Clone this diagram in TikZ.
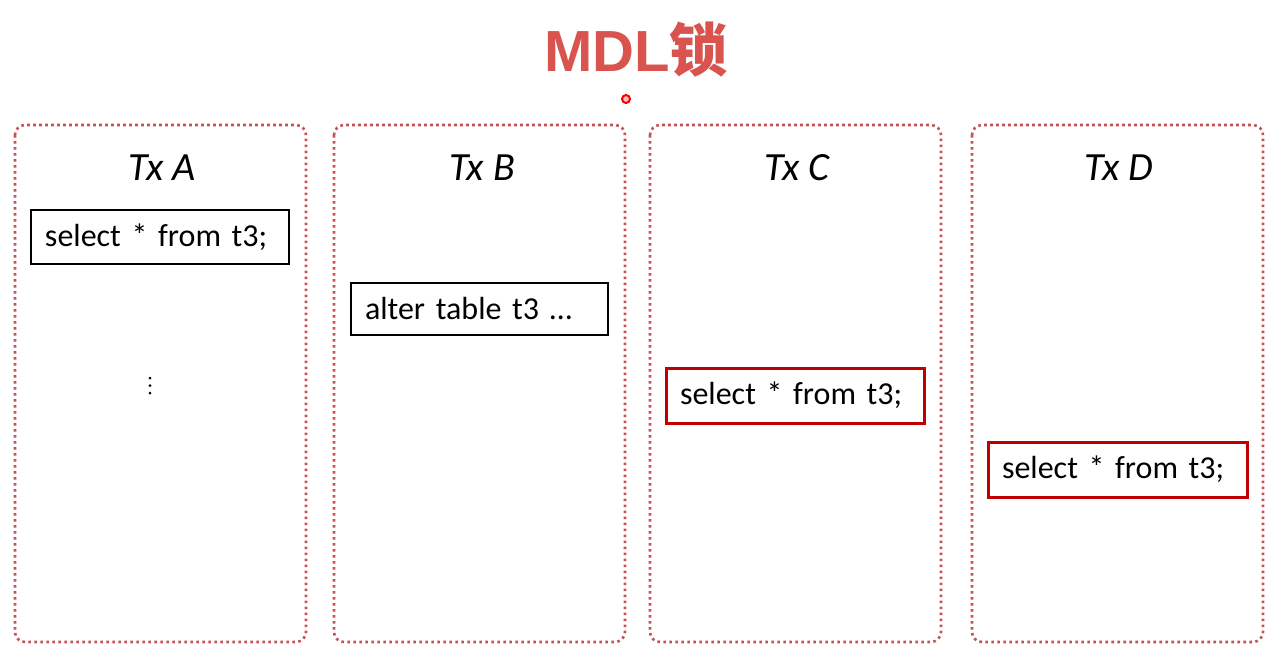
\documentclass[tikz,border=0pt]{standalone}
\usepackage{fontspec}
\setmainfont{Carlito}
\newfontfamily\titlefont{Liberation Sans}
\newfontfamily\cjk{Noto Sans CJK SC}
\definecolor{frame}{RGB}{200,80,85}
\definecolor{titlered}{RGB}{217,83,79}
\definecolor{boxred}{RGB}{192,0,0}
\begin{document}
\begin{tikzpicture}[x=1pt,y=-1pt,
  column/.style={draw=frame,line width=2.6pt,dash pattern=on 2.6pt off 3.4pt,rounded corners=10pt},
  txtitle/.style={font=\fontsize{40}{44}\selectfont\itshape,anchor=center},
  stmt/.style={draw=black,line width=1.2pt,rectangle,inner xsep=14pt,inner ysep=0pt,align=left,font=\fontsize{32}{36}\selectfont},
  stmtred/.style={stmt,draw=boxred,line width=3pt},
  vdot/.style={circle,fill=black,minimum size=3pt,inner sep=0pt}]
\useasboundingbox (0,0) rectangle (1286,651);
\fill[white] (0,0) rectangle (1286,651);
\node[font=\titlefont\bfseries\fontsize{58}{64}\selectfont,text=titlered] (title) at (636,50) {MDL{\cjk\bfseries 锁}};
\node[circle,draw=red,line width=2pt,fill=red!25,minimum size=8pt,inner sep=0pt] (dot) at (626,99) {};
\draw[column] (15,125) rectangle (306,642);
\draw[column] (334,125) rectangle (625,642);
\draw[column] (650,125) rectangle (941,642);
\draw[column] (972,125) rectangle (1263,642);
\node[txtitle] (ta) at (162,168) {Tx A};
\node[txtitle] (tb) at (482,168) {Tx B};
\node[txtitle] (tc) at (797,168) {Tx C};
\node[txtitle] (td) at (1119,168) {Tx D};
\node[stmt,text width=230pt,minimum height=54pt] (sa) at (160,237) {select * from t3;};
\node[stmt,text width=229pt,minimum height=52pt] (sb) at (479.5,309) {alter table t3 …};
\node[stmtred,text width=230pt,minimum height=55pt] (sc) at (795,395.5) {select * from t3;};
\node[stmtred,text width=231pt,minimum height=55pt] (sd) at (1117.5,469.5) {select * from t3;};
\node[vdot] (v1) at (150,378) {};
\node[vdot] (v2) at (150,385.5) {};
\node[vdot] (v3) at (150,393) {};
\end{tikzpicture}
\end{document}
